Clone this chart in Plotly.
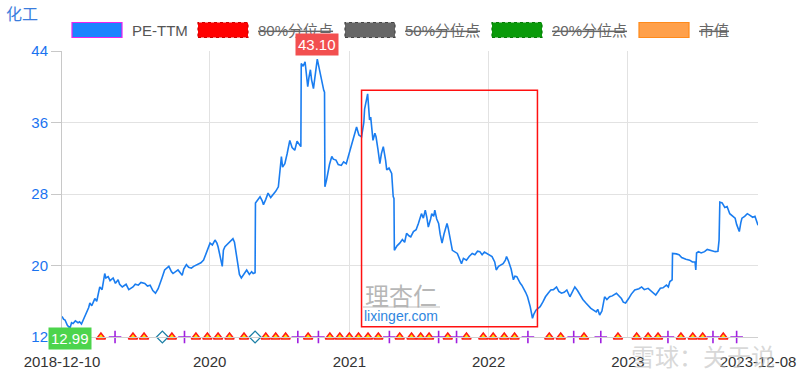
import plotly.graph_objects as go

# ---------------- data ----------------
pe_dates = [
    "2018-12-10", "2018-12-14", "2018-12-18", "2018-12-24", "2018-12-31", "2019-01-04", "2019-01-08",
    "2019-01-14", "2019-01-21", "2019-01-25", "2019-01-30", "2019-02-12", "2019-02-18", "2019-02-21",
    "2019-02-26", "2019-03-06", "2019-03-11", "2019-03-19", "2019-03-25", "2019-04-01", "2019-04-04",
    "2019-04-10", "2019-04-15", "2019-04-23", "2019-04-29", "2019-05-06", "2019-05-10", "2019-05-17",
    "2019-05-27", "2019-06-03", "2019-06-10", "2019-06-14", "2019-06-20", "2019-06-28", "2019-07-05",
    "2019-07-15", "2019-07-22", "2019-07-29", "2019-08-05", "2019-08-12", "2019-08-19", "2019-08-23",
    "2019-08-29", "2019-09-05", "2019-09-10", "2019-09-16", "2019-09-23", "2019-09-27", "2019-10-10",
    "2019-10-15", "2019-10-21", "2019-10-25", "2019-11-01", "2019-11-07", "2019-11-14", "2019-11-20",
    "2019-12-02", "2019-12-09", "2019-12-16", "2019-12-23", "2020-01-02", "2020-01-08", "2020-01-15",
    "2020-01-20", "2020-01-23", "2020-02-03", "2020-02-06", "2020-02-10", "2020-02-17", "2020-02-24",
    "2020-03-02", "2020-03-06", "2020-03-11", "2020-03-16", "2020-03-19", "2020-03-24", "2020-03-30",
    "2020-04-07", "2020-04-14", "2020-04-20", "2020-04-24", "2020-04-29", "2020-04-30", "2020-05-06",
    "2020-05-12", "2020-05-18", "2020-05-21", "2020-05-27", "2020-06-02", "2020-06-09", "2020-06-15",
    "2020-06-22", "2020-06-29", "2020-07-03", "2020-07-07", "2020-07-10", "2020-07-16", "2020-07-22",
    "2020-07-29", "2020-08-04", "2020-08-11", "2020-08-17", "2020-08-21", "2020-08-27", "2020-08-28",
    "2020-09-02", "2020-09-07", "2020-09-10", "2020-09-14", "2020-09-17", "2020-09-21", "2020-09-24",
    "2020-09-29", "2020-10-09", "2020-10-13", "2020-10-16", "2020-10-21", "2020-10-26", "2020-10-28",
    "2020-10-29", "2020-11-02", "2020-11-05", "2020-11-10", "2020-11-16", "2020-11-20", "2020-11-27",
    "2020-12-03", "2020-12-11", "2020-12-17", "2020-12-24", "2020-12-30", "2021-01-07", "2021-01-12",
    "2021-01-20", "2021-01-26", "2021-02-02", "2021-02-08", "2021-02-10", "2021-02-18", "2021-02-23",
    "2021-02-26", "2021-03-04", "2021-03-09", "2021-03-12", "2021-03-17", "2021-03-22", "2021-03-26",
    "2021-03-31", "2021-04-06", "2021-04-09", "2021-04-15", "2021-04-22", "2021-04-26", "2021-04-28",
    "2021-04-29", "2021-05-06", "2021-05-13", "2021-05-20", "2021-05-26", "2021-05-31", "2021-06-07",
    "2021-06-11", "2021-06-18", "2021-06-25", "2021-07-01", "2021-07-09", "2021-07-14", "2021-07-19",
    "2021-07-23", "2021-07-27", "2021-08-02", "2021-08-05", "2021-08-10", "2021-08-13", "2021-08-18",
    "2021-08-23", "2021-08-27", "2021-09-01", "2021-09-06", "2021-09-09", "2021-09-14", "2021-09-17",
    "2021-09-23", "2021-09-28", "2021-10-11", "2021-10-15", "2021-10-22", "2021-10-27", "2021-11-04",
    "2021-11-11", "2021-11-19", "2021-11-26", "2021-12-03", "2021-12-09", "2021-12-15", "2021-12-21",
    "2021-12-27", "2022-01-04", "2022-01-10", "2022-01-17", "2022-01-21", "2022-01-27", "2022-02-08",
    "2022-02-14", "2022-02-17", "2022-02-22", "2022-02-25", "2022-03-01", "2022-03-07", "2022-03-11",
    "2022-03-16", "2022-03-21", "2022-03-25", "2022-03-29", "2022-04-01", "2022-04-08", "2022-04-13",
    "2022-04-20", "2022-04-26", "2022-04-29", "2022-05-05", "2022-05-10", "2022-05-16", "2022-05-23",
    "2022-05-30", "2022-06-06", "2022-06-13", "2022-06-20", "2022-06-28", "2022-07-04", "2022-07-11",
    "2022-07-18", "2022-07-25", "2022-08-02", "2022-08-08", "2022-08-15", "2022-08-22", "2022-08-29",
    "2022-09-05", "2022-09-13", "2022-09-19", "2022-09-26", "2022-10-10", "2022-10-14", "2022-10-19",
    "2022-10-25", "2022-11-01", "2022-11-07", "2022-11-14", "2022-11-21", "2022-12-02", "2022-12-08",
    "2022-12-15", "2022-12-20", "2022-12-26", "2023-01-03", "2023-01-10", "2023-01-19", "2023-01-30",
    "2023-02-06", "2023-02-13", "2023-02-23", "2023-03-02", "2023-03-10", "2023-03-15", "2023-03-20",
    "2023-03-27", "2023-04-03", "2023-04-12", "2023-04-17", "2023-04-21", "2023-04-27", "2023-04-28",
    "2023-05-08", "2023-05-15", "2023-05-22", "2023-05-26", "2023-06-02", "2023-06-12", "2023-06-19",
    "2023-06-26", "2023-06-28", "2023-06-30", "2023-07-05", "2023-07-12", "2023-07-21", "2023-07-28",
    "2023-08-04", "2023-08-11", "2023-08-18", "2023-08-25", "2023-08-28", "2023-08-30", "2023-09-05",
    "2023-09-12", "2023-09-18", "2023-09-25", "2023-10-09", "2023-10-13", "2023-10-20", "2023-10-24",
    "2023-10-27", "2023-11-03", "2023-11-10", "2023-11-17", "2023-11-24", "2023-11-30", "2023-12-05",
    "2023-12-08",
]
pe_values = [
    14.3, 14.0, 13.9, 13.3, 12.99, 13.6, 13.5,
    13.8, 13.6, 13.7, 13.45, 14.65, 15.3, 15.8,
    15.5, 16.3, 16.0, 17.6, 17.3, 19.1, 18.6,
    18.75, 18.3, 18.6, 18.0, 18.4, 17.9, 17.6,
    17.9, 17.3, 17.5, 17.6, 17.9, 17.8, 18.1,
    18.0, 17.7, 17.8, 17.2, 16.9, 17.4, 18.0,
    18.6, 19.5, 19.7, 19.9, 19.3, 19.1, 19.5,
    19.2, 18.9, 19.6, 20.1, 19.8, 19.7, 19.9,
    20.1, 20.3, 20.6, 21.3, 22.5, 22.3, 22.85,
    22.5, 22.1, 19.9, 21.7, 22.1, 22.4, 22.8,
    23.0, 22.6, 21.0, 19.9, 19.0, 18.6, 19.0,
    19.5, 19.0, 19.3, 19.1, 19.2, 27.0, 27.3,
    27.7, 27.2, 26.8, 27.4, 28.1, 27.6, 27.9,
    28.3, 28.8, 30.5, 32.2, 31.0, 31.4, 32.5,
    34.0, 33.2, 32.9, 33.9, 33.7, 33.3, 42.6,
    42.3, 42.8, 41.2, 40.0, 41.0, 41.9, 40.8,
    39.8, 43.1, 42.2, 41.5, 40.5, 39.6, 39.4,
    28.8, 29.5, 30.3, 31.3, 32.2, 31.9, 31.8,
    31.3, 31.2, 31.6, 31.4, 32.3, 33.7, 34.5,
    35.5, 34.6, 34.4, 36.0, 37.5, 39.2, 36.3,
    36.6, 34.0, 34.8, 34.4, 33.0, 31.4, 32.5,
    33.3, 31.8, 30.7, 30.9, 30.3, 27.7, 27.5,
    21.7, 22.2, 22.5, 22.9, 22.6, 23.6, 23.3,
    23.2, 23.8, 24.0, 24.7, 25.8, 25.3, 26.2,
    25.4, 24.3, 25.2, 25.8, 25.5, 26.2, 25.2,
    24.7, 23.5, 22.5, 23.5, 24.0, 24.7, 24.2,
    22.6, 21.7, 21.35, 21.0, 20.2, 20.8, 20.6,
    21.0, 21.35, 21.2, 21.6, 21.55, 21.2, 21.5,
    21.35, 21.2, 21.0, 20.4, 19.5, 19.9, 20.2,
    20.6, 21.0, 20.5, 20.1, 19.6, 18.4, 18.8,
    18.75, 18.3, 18.0, 17.8, 17.6, 17.0, 16.5,
    15.4, 14.1, 14.5, 15.0, 15.2, 15.4, 15.9,
    16.5, 16.9, 17.26, 17.3, 17.6, 17.1, 16.9,
    17.0, 17.26, 16.5, 17.0, 17.6, 17.2, 16.7,
    16.2, 15.8, 15.5, 15.2, 14.8, 15.1, 14.46,
    14.9, 16.5, 16.2, 16.5, 16.6, 16.9, 16.6,
    16.3, 15.9, 15.8, 16.3, 16.8, 17.26, 17.4,
    17.6, 17.3, 17.45, 17.2, 16.9, 16.7, 17.0,
    17.45, 17.5, 17.8, 17.6, 18.2, 18.4, 21.35,
    21.3, 21.2, 20.9, 20.8, 20.7, 20.6, 20.4,
    20.4, 19.5, 21.4, 21.55, 21.4, 21.55, 21.8,
    21.7, 21.6, 21.55, 21.6, 22.85, 27.1, 27.0,
    26.5, 26.6, 25.8, 25.3, 24.6, 23.8, 24.8,
    25.3, 25.5, 25.8, 25.6, 25.4, 25.5, 24.9,
    24.5,
]

# event markers along the bottom of the chart
triangle_dates = [
    "2019-01-21", "2019-03-22", "2019-06-14", "2019-07-13", "2019-09-24", "2019-11-26", "2019-12-26",
    "2020-01-23", "2020-02-22", "2020-03-31", "2020-05-27", "2020-06-22", "2020-07-18", "2020-09-15",
    "2020-11-11", "2020-12-07", "2021-01-01", "2021-01-25", "2021-02-19", "2021-03-18", "2021-05-13",
    "2021-06-13", "2021-07-07", "2021-07-29", "2021-09-16", "2021-11-04", "2021-12-18", "2022-01-13",
    "2022-02-11", "2022-03-10", "2022-06-09", "2022-07-09", "2022-09-08", "2022-12-06", "2023-01-24",
    "2023-02-23", "2023-03-21", "2023-05-20", "2023-06-20", "2023-07-16", "2023-09-08",
]
plus_dates = [
    "2019-04-28", "2019-10-27", "2020-08-19", "2020-10-12", "2021-04-16", "2021-08-23", "2021-10-09",
    "2022-04-14", "2022-08-12", "2022-10-22", "2023-04-16", "2023-08-12", "2023-10-13",
]
diamond_dates = ["2019-08-30", "2020-04-29"]
event_level = 12

x_tick_vals = ["2018-12-10", "2020-01-01", "2021-01-01", "2022-01-01", "2023-01-01", "2023-12-08"]
x_tick_text = ["2018-12-10", "2020", "2021", "2022", "2023", "2023-12-08"]
x_range = ["2018-12-10", "2023-12-08"]
y_tick_vals = [12, 20, 28, 36, 44]
y_range = [12, 44]

max_date, max_value = "2020-10-09", 43.10
min_date, min_value = "2018-12-31", 12.99

highlight_dates = ["2021-02-02", "2022-05-09"]
highlight_values = [13.15, 39.6]

chart_title = "化工"
legend_names = ["PE-TTM", "80%分位点", "50%分位点", "20%分位点", "市值"]
legend_fill = ["#1a84ff", "#ff0000", "#666666", "#0a9a0a", "#ffa04a"]
legend_edge = ["#ee22ee", "#cc0000", "#444444", "#067a06", "#ff8a1a"]
legend_dash = ["solid", "dot", "dot", "dot", "solid"]
legend_hidden = [False, True, True, True, True]

# ---------------- layout geometry (pixels) ----------------
W, H = 800, 373
ML, MR, MT, MB = 62, 42, 51, 36
PW, PH = W - ML - MR, H - MT - MB


def px(xp):
    return (xp - ML) / PW


def py(yp):
    return (H - MB - yp) / PH


fig = go.Figure()

fig.add_trace(go.Scatter(
    x=pe_dates, y=pe_values, mode="lines",
    line=dict(color="#1a7df0", width=1.6),
    name=legend_names[0], showlegend=False, hoverinfo="x+y",
))

fig.add_trace(go.Scatter(
    x=triangle_dates, y=[event_level] * len(triangle_dates), mode="markers",
    marker=dict(symbol="triangle-up", size=8, color="#ffe600",
                line=dict(color="#ff1a1a", width=1.5)),
    cliponaxis=False, showlegend=False,
))
fig.add_trace(go.Scatter(
    x=plus_dates, y=[event_level] * len(plus_dates), mode="markers",
    marker=dict(symbol="cross-thin", size=9, color="#a020e0",
                line=dict(color="#a020e0", width=1.6)),
    cliponaxis=False, showlegend=False,
))
fig.add_trace(go.Scatter(
    x=diamond_dates, y=[event_level] * len(diamond_dates), mode="markers",
    marker=dict(symbol="diamond-open", size=9, color="#1b7fa6",
                line=dict(color="#1b7fa6", width=1.3)),
    cliponaxis=False, showlegend=False,
))

shapes = []
annotations = []

# highlight rectangle
shapes.append(dict(type="rect", xref="x", yref="y",
                   x0=highlight_dates[0], x1=highlight_dates[1],
                   y0=highlight_values[0], y1=highlight_values[1],
                   line=dict(color="#ff1010", width=1.5), fillcolor="rgba(0,0,0,0)"))

# custom legend
leg_x = [72, 198, 345, 492, 639]
leg_y0, leg_y1 = 22.5, 37.5
for i, name in enumerate(legend_names):
    shapes.append(dict(type="rect", xref="paper", yref="paper",
                       x0=px(leg_x[i]), x1=px(leg_x[i] + 50),
                       y0=py(leg_y1), y1=py(leg_y0),
                       fillcolor=legend_fill[i],
                       line=dict(color=legend_edge[i], width=1.2, dash=legend_dash[i])))
    annotations.append(dict(
        text=name, xref="paper", yref="paper", x=px(leg_x[i] + 58), y=py(30),
        xanchor="left", yanchor="middle", showarrow=False,
        font=dict(size=15, color="#555555" if not legend_hidden[i] else "#666666",
                  family="Liberation Sans, Noto Sans CJK SC",
                  lineposition="through" if legend_hidden[i] else "none"),
    ))

# title
annotations.append(dict(text=chart_title, xref="paper", yref="paper", x=px(4), y=py(13),
                        xanchor="left", yanchor="middle", showarrow=False,
                        font=dict(size=16, color="#3b7ddd", family="Noto Sans CJK SC")))

# max / min labels
annotations.append(dict(text=f"{max_value:.2f}", x=max_date, y=max_value, xref="x", yref="y",
                        showarrow=False, yanchor="bottom", yshift=3,
                        bgcolor="#f24f4f", borderpad=2,
                        font=dict(size=15, color="white", family="Liberation Sans")))
annotations.append(dict(text=f"{min_value:.2f}", x=min_date, y=event_level, xref="x", yref="y",
                        showarrow=False, yanchor="middle", yshift=-1,
                        bgcolor="#4cd44c", borderpad=2,
                        font=dict(size=15, color="white", family="Liberation Sans")))

# watermarks
annotations.append(dict(text="理杏仁", xref="paper", yref="paper", x=px(401), y=py(294),
                        xanchor="center", yanchor="middle", showarrow=False,
                        font=dict(size=24, color="rgba(160,160,160,0.75)", family="Noto Sans CJK SC")))
shapes.append(dict(type="line", xref="paper", yref="paper", x0=px(363), x1=px(440),
                   y0=py(307), y1=py(307), line=dict(color="rgba(150,150,150,0.6)", width=1)))
annotations.append(dict(text="lixinger.com", xref="paper", yref="paper", x=px(401), y=py(316),
                        xanchor="center", yanchor="middle", showarrow=False,
                        font=dict(size=14, color="#2f86e0", family="Liberation Sans")))
annotations.append(dict(text="雪球：关于说", xref="paper", yref="paper", x=px(703), y=py(355),
                        xanchor="center", yanchor="middle", showarrow=False,
                        font=dict(size=24, color="rgba(190,190,190,0.6)", family="Noto Sans CJK SC")))

fig.update_layout(
    width=W, height=H,
    margin=dict(l=ML, r=MR, t=MT, b=MB, autoexpand=False),
    paper_bgcolor="white", plot_bgcolor="white",
    showlegend=False,
    shapes=shapes, annotations=annotations,
    font=dict(family="Liberation Sans, Noto Sans CJK SC"),
    xaxis=dict(type="date", range=x_range, tickvals=x_tick_vals, ticktext=x_tick_text,
               showgrid=True, gridcolor="#e2e2e2", gridwidth=1,
               showline=True, linecolor="#d0d0d0", linewidth=1,
               ticks="", ticklabelstandoff=11, tickfont=dict(size=15, color="#333333"),
               zeroline=False, fixedrange=True, automargin=False),
    yaxis=dict(range=y_range, tickvals=y_tick_vals,
               showgrid=True, gridcolor="#e2e2e2", gridwidth=1,
               showline=True, linecolor="#c8c8c8", linewidth=1,
               ticks="outside", ticklen=10, tickcolor="#c8c8c8",
               tickfont=dict(size=15, color="#1a73f0"),
               zeroline=False, fixedrange=True, automargin=False),
)

fig.write_html("out.html", config={"displayModeBar": False},
               post_script="document.body.style.margin='0';")
